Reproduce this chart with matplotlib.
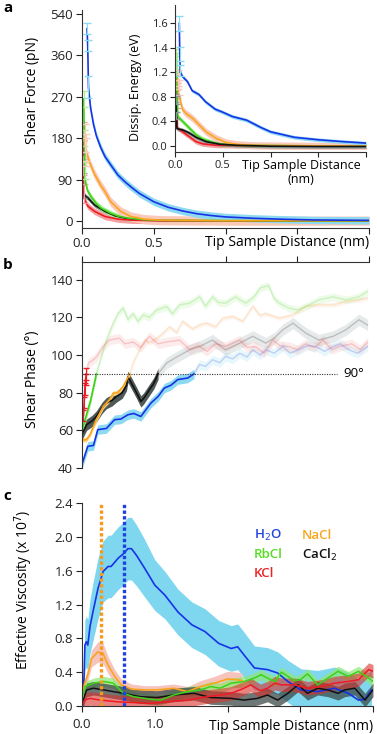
import numpy as np
import matplotlib
matplotlib.use('Agg')
import matplotlib.pyplot as plt

plt.rcParams['font.family'] = ['Open Sans', 'DejaVu Sans']
plt.rcParams['font.size'] = 9.5
plt.rcParams['axes.linewidth'] = 0.8

### colours
BLUE, BLUE_BAND = '#1733e6', '#8cd9f2'
GREEN, GREEN_BAND = '#3dd11a', '#a9ee90'
ORANGE, ORANGE_BAND = '#f8a51c', '#fbc9b9'
RED, RED_BAND = '#ee1b24', '#f5a0a0'
BLACK, BLACK_BAND = '#111111', '#8a9896'

### panel a: shear force (pN)
a_blue_x = [0.035, 0.04, 0.045, 0.06, 0.08, 0.1, 0.13, 0.16, 0.2, 0.25, 0.3, 0.35, 0.4, 0.5, 0.6, 0.7, 0.8, 0.9, 1.0, 1.2, 1.4, 1.6, 1.8, 2.0]
a_blue_y = [475, 400, 290, 245, 210, 185, 160, 140, 122, 100, 85, 72, 60, 42, 30, 22, 16, 12, 9, 6, 4, 2.5, 2, 1.5]
a_green_x = [0.012, 0.016, 0.02, 0.025, 0.04, 0.065, 0.1, 0.134, 0.17, 0.2, 0.25, 0.32, 0.43, 0.6, 1.0, 1.5, 2.0]
a_green_y = [265, 180, 110, 83, 65, 52, 38, 28, 22, 17, 11, 6.5, 3, 1.5, 1, 0.5, 0.5]
a_orange_x = [0.02, 0.025, 0.03, 0.05, 0.065, 0.09, 0.11, 0.13, 0.16, 0.2, 0.24, 0.27, 0.34, 0.43, 0.55, 0.7, 1.0, 1.5, 2.0]
a_orange_y = [180, 160, 150, 130, 118, 100, 89, 78, 64, 42, 30, 21, 10, 4.3, 2, 1.5, 1, 1, 1]
a_red_x = [0.005, 0.008, 0.012, 0.02, 0.042, 0.088, 0.16, 0.25, 0.34, 0.5, 1.0, 2.0]
a_red_y = [195, 120, 60, 45, 32, 21, 10, 4.3, 2, 1, 0.5, 0.5]
a_black_x = [0.004, 0.007, 0.01, 0.02, 0.042, 0.088, 0.16, 0.23, 0.32, 0.43, 0.6, 1.0, 2.0]
a_black_y = [160, 120, 65, 55, 50, 35, 21, 11.5, 5, 2, 1, 0.5, 0.5]
a_err = {'blue': 8, 'green': 6, 'orange': 10, 'red': 7, 'black': 5}

### inset: dissipated energy (eV)
i_blue_x = [0.045, 0.05, 0.055, 0.08, 0.13, 0.18, 0.25, 0.32, 0.42, 0.5, 0.6, 0.75, 0.9, 1.0, 1.25, 1.5, 1.75, 2.0]
i_blue_y = [1.6, 1.35, 1.2, 1.13, 1.05, 0.9, 0.84, 0.72, 0.6, 0.55, 0.48, 0.42, 0.3, 0.23, 0.14, 0.1, 0.07, 0.045]
i_green_x = [0.0, 0.01, 0.018, 0.024, 0.028, 0.08, 0.15, 0.22, 0.29, 0.4, 0.5, 0.64, 0.8, 1.0, 1.5, 2.0]
i_green_y = [1.25, 1.31, 1.28, 0.9, 0.48, 0.4, 0.29, 0.18, 0.11, 0.054, 0.027, 0.01, 0.005, 0.005, 0, 0]
i_orange_x = [0.03, 0.035, 0.04, 0.045, 0.08, 0.115, 0.185, 0.255, 0.325, 0.43, 0.535, 0.64, 0.8, 1.0, 1.5, 2.0]
i_orange_y = [1.05, 1.1, 0.95, 0.8, 0.59, 0.53, 0.45, 0.34, 0.23, 0.125, 0.054, 0.027, 0.01, 0.005, 0, 0]
i_red_x = [0.01, 0.017, 0.022, 0.025, 0.08, 0.15, 0.22, 0.29, 0.43, 0.6, 1.0, 2.0]
i_red_y = [1.0, 1.1, 0.7, 0.29, 0.23, 0.15, 0.07, 0.033, 0.01, 0.005, 0, 0]
i_black_x = [0.0, 0.01, 0.015, 0.02, 0.08, 0.15, 0.22, 0.325, 0.465, 0.64, 1.0, 1.5, 2.0]
i_black_y = [0.78, 0.75, 0.5, 0.28, 0.26, 0.21, 0.14, 0.07, 0.027, 0.01, -0.005, -0.01, -0.01]
i_err = {'blue': 0.03, 'green': 0.04, 'orange': 0.06, 'red': 0.04, 'black': 0.03}

### panel b: shear phase (deg)
b_blue_x = [0.0, 0.04, 0.08, 0.11, 0.17, 0.227, 0.27, 0.32, 0.36, 0.41, 0.48, 0.53, 0.574, 0.62, 0.667, 0.736, 0.78, 0.82, 0.86, 0.91, 0.96, 1.0, 1.05, 1.1, 1.15, 1.19, 1.24, 1.28, 1.34, 1.4, 1.45, 1.51, 1.57, 1.63, 1.69, 1.75, 1.8, 1.86, 1.92, 1.99]
b_blue_y = [42, 51.5, 52, 60.4, 61, 65.7, 66, 68.3, 69, 67.4, 74.5, 78, 82.5, 84, 87, 87.8, 90, 95, 94, 97.5, 96, 99.3, 98, 101, 99, 102.8, 100, 102.8, 101, 104.6, 101, 102.8, 105, 104.6, 102, 104.6, 106, 102.8, 101, 104.6]
b_green_x = [0.0, 0.03, 0.06, 0.1, 0.148, 0.18, 0.218, 0.25, 0.287, 0.32, 0.356, 0.39, 0.426, 0.47, 0.52, 0.59, 0.63, 0.68, 0.75, 0.82, 0.86, 0.91, 0.95, 1.0, 1.07, 1.14, 1.2, 1.24, 1.3, 1.34, 1.375, 1.44, 1.5, 1.56, 1.65, 1.75, 1.84, 1.93, 1.99]
b_green_y = [60, 68, 76, 90, 102.8, 110, 117, 122, 125, 119, 122, 118, 121.4, 120, 124, 125.8, 122, 126.7, 127.6, 131, 126, 131, 128, 127.6, 131, 127.6, 131, 135.6, 137, 130, 127.6, 125, 124, 125.8, 129.4, 131, 129.4, 131, 133.8]
b_red_x = [0.01, 0.015, 0.02, 0.025, 0.03, 0.044, 0.07, 0.1, 0.148, 0.19, 0.26, 0.3, 0.356, 0.41, 0.47, 0.53, 0.59, 0.68, 0.75, 0.81, 0.87, 0.93, 1.0, 1.1, 1.15, 1.21, 1.27, 1.33, 1.38, 1.44, 1.5, 1.56, 1.62, 1.68, 1.74, 1.79, 1.88, 1.94, 1.99]
b_red_y = [68, 75, 82, 87, 90, 95.8, 97, 99, 104.6, 108, 109, 106, 107, 104, 110, 106, 107, 108, 103, 105, 102, 106, 104.6, 108, 104, 104.6, 101, 108, 105, 104.6, 103, 106, 104, 108, 103, 104.6, 106, 103, 107]
b_orange_x = [0.0, 0.03, 0.056, 0.1, 0.148, 0.19, 0.218, 0.25, 0.287, 0.333, 0.356, 0.4, 0.44, 0.47, 0.54, 0.61, 0.66, 0.7, 0.77, 0.82, 0.866, 0.93, 0.98, 1.05, 1.12, 1.19, 1.24, 1.28, 1.375, 1.47, 1.56, 1.65, 1.75, 1.84, 1.93, 1.99]
b_orange_y = [55, 55, 57.7, 65.7, 72.7, 76, 79.8, 80, 83.4, 90, 95.8, 102.8, 108, 106.4, 110, 115, 112, 118, 114, 116, 117, 115, 119.6, 120.5, 118, 126, 121, 122, 119.6, 121.4, 126, 126.7, 126.7, 128.5, 129.4, 130.3]
b_black_x = [0.0, 0.032, 0.07, 0.1, 0.14, 0.17, 0.21, 0.24, 0.28, 0.31, 0.32, 0.345, 0.38, 0.41, 0.43, 0.47, 0.5, 0.53, 0.59, 0.66, 0.75, 0.82, 0.91, 1.0, 1.1, 1.19, 1.28, 1.34, 1.4, 1.47, 1.56, 1.65, 1.75, 1.84, 1.93, 1.99]
b_black_y = [58, 63, 65, 67.4, 72, 74.5, 76, 78, 80, 84, 88.5, 85, 80, 75.4, 77, 81.6, 85, 90, 95.8, 99, 102.8, 104.6, 108, 102.8, 106.4, 110, 106.4, 109, 113.5, 117, 111.7, 108, 110, 113.5, 118.8, 116]
b_err = {'blue': 2.5, 'green': 2.0, 'orange': 1.2, 'red': 2.5, 'black': 3.0}

### panel c: effective viscosity (x 1e7)
c_blue_x = [0.0, 0.01, 0.028, 0.04, 0.06, 0.08, 0.11, 0.15, 0.22, 0.29, 0.36, 0.4, 0.5, 0.57, 0.63, 0.68, 0.75, 0.86, 1.0, 1.14, 1.32, 1.51, 1.69, 1.88, 2.05, 2.14, 2.23, 2.37, 2.55, 2.69, 2.83, 3.01, 3.24, 3.47, 3.66, 3.8, 3.89, 3.98]
c_blue_y = [0.0, 0.03, 0.35, 0.72, 0.76, 0.72, 0.94, 1.11, 1.39, 1.59, 1.65, 1.65, 1.75, 1.8, 1.86, 1.86, 1.78, 1.63, 1.43, 1.31, 1.11, 0.96, 0.88, 0.74, 0.68, 0.7, 0.6, 0.45, 0.43, 0.39, 0.29, 0.19, 0.17, 0.21, 0.15, 0.07, 0.08, 0.19]
c_blue_err = [0.05, 0.1, 0.2, 0.3, 0.3, 0.3, 0.32, 0.34, 0.36, 0.36, 0.37, 0.37, 0.37, 0.37, 0.37, 0.37, 0.36, 0.34, 0.3, 0.28, 0.27, 0.27, 0.27, 0.27, 0.27, 0.27, 0.27, 0.26, 0.26, 0.25, 0.25, 0.25, 0.25, 0.25, 0.25, 0.25, 0.25, 0.25]
c_orange_x = [0.0, 0.03, 0.08, 0.13, 0.22, 0.29, 0.36, 0.45, 0.54, 0.68, 0.86, 1.03, 1.26, 1.45, 1.63, 1.82, 2.0, 2.14, 2.2]
c_orange_y = [0.03, 0.25, 0.37, 0.56, 0.64, 0.62, 0.48, 0.35, 0.25, 0.2, 0.19, 0.19, 0.21, 0.17, 0.23, 0.27, 0.32, 0.31, 0.3]
c_orange_err = [0.02, 0.06, 0.08, 0.1, 0.12, 0.12, 0.1, 0.08, 0.07, 0.06, 0.05, 0.05, 0.05, 0.06, 0.07, 0.08, 0.09, 0.09, 0.09]
c_green_x = [0.0, 0.04, 0.16, 0.3, 0.43, 0.57, 0.71, 0.94, 1.08, 1.26, 1.45, 1.63, 1.77, 1.9, 2.05, 2.23, 2.37, 2.46, 2.55, 2.65, 2.74, 2.83, 2.92, 3.0, 3.1, 3.24, 3.38, 3.52, 3.66, 3.8, 3.94, 4.0]
c_green_y = [0.07, 0.23, 0.27, 0.29, 0.27, 0.15, 0.11, 0.08, 0.07, 0.13, 0.17, 0.19, 0.23, 0.21, 0.27, 0.29, 0.33, 0.37, 0.33, 0.29, 0.4, 0.35, 0.3, 0.31, 0.38, 0.25, 0.33, 0.41, 0.35, 0.41, 0.33, 0.29]
c_red_x = [0.0, 0.04, 0.11, 0.25, 0.48, 0.71, 0.94, 1.17, 1.45, 1.72, 1.9, 2.05, 2.2, 2.32, 2.45, 2.55, 2.65, 2.74, 2.92, 3.1, 3.29, 3.47, 3.66, 3.8, 3.94, 4.0]
c_red_y = [0.01, 0.07, 0.09, 0.07, 0.05, 0.04, 0.03, 0.05, 0.07, 0.11, 0.13, 0.15, 0.2, 0.25, 0.18, 0.21, 0.27, 0.25, 0.25, 0.21, 0.23, 0.27, 0.29, 0.31, 0.43, 0.41]
c_black_x = [0.0, 0.065, 0.157, 0.3, 0.43, 0.57, 0.8, 1.03, 1.26, 1.54, 1.77, 2.05, 2.23, 2.41, 2.55, 2.69, 2.83, 2.97, 3.1, 3.24, 3.38, 3.52, 3.61, 3.75, 3.89, 4.0]
c_black_y = [0.03, 0.19, 0.21, 0.19, 0.17, 0.15, 0.11, 0.1, 0.13, 0.15, 0.1, 0.09, 0.07, 0.09, 0.13, 0.07, 0.15, 0.25, 0.15, 0.21, 0.19, 0.15, 0.19, 0.21, 0.07, 0.19]
c_peak_orange = 0.263
c_peak_blue = 0.58

legend_names = ['H$_2$O', 'NaCl', 'RbCl', 'CaCl$_2$', 'KCl']


def band_line(ax, x, y, err, color, band, lw=1.2, alpha=1.0):
    x = np.asarray(x, float)
    y = np.asarray(y, float)
    ax.fill_between(x, y - err, y + err, color=band, lw=0, alpha=alpha)
    ax.plot(x, y, color=color, lw=lw, alpha=alpha)


def style(ax):
    ax.tick_params(direction='out', length=4.5, width=0.8, pad=2, colors='#222222')
    for s in ax.spines.values():
        s.set_color('#333333')


fig = plt.figure(figsize=(3.77, 7.34), dpi=100)
W, H = 377, 734


def box(l, t, r, b):
    return [l / W, 1 - b / H, (r - l) / W, (b - t) / H]


# ---- panel a
ax_a = fig.add_axes(box(82, 10, 369, 228))
f_fwd = lambda v: np.where(np.asarray(v) <= 360, v, 360 + (np.asarray(v) - 360) / 2)
f_inv = lambda v: np.where(np.asarray(v) <= 360, v, 360 + (np.asarray(v) - 360) * 2)
ax_a.set_yscale('function', functions=(f_fwd, f_inv))
for x, y, key, c, bd in [(a_black_x, a_black_y, 'black', BLACK, BLACK_BAND),
                         (a_red_x, a_red_y, 'red', RED, RED_BAND),
                         (a_green_x, a_green_y, 'green', GREEN, GREEN_BAND),
                         (a_orange_x, a_orange_y, 'orange', ORANGE, ORANGE_BAND),
                         (a_blue_x, a_blue_y, 'blue', BLUE, BLUE_BAND)]:
    band_line(ax_a, x, y, a_err[key], c, bd)
    ax_a.errorbar(x[:3], y[:3], yerr=a_err[key] * 3, fmt='none', ecolor=bd, capsize=3, lw=0.8)
ax_a.set_xlim(0, 2.0)
ax_a.set_ylim(-15, 556)
ax_a.set_yticks([0, 90, 180, 270, 360, 540])
ax_a.set_xticks([0, 0.5, 1.0, 1.5, 2.0], ['0.0', '0.5', '', '', ''])
ax_a.spines[['top', 'right']].set_visible(False)
style(ax_a)
ax_a.set_ylabel('Shear Force (pN)', fontsize=10)
ax_a.yaxis.set_label_coords(-0.146, 0.63)
ax_a.text(1.0, -0.03, 'Tip Sample Distance (nm)', transform=ax_a.transAxes, ha='right', va='top',
          fontsize=10)

# ---- inset
ax_in = fig.add_axes(box(175, 5, 366, 152))
ax_in.patch.set_alpha(0)
e_fwd = lambda v: np.where(np.asarray(v) <= 1.2, v, 1.2 + (np.asarray(v) - 1.2) * 2)
e_inv = lambda v: np.where(np.asarray(v) <= 1.2, v, 1.2 + (np.asarray(v) - 1.2) / 2)
ax_in.set_yscale('function', functions=(e_fwd, e_inv))
for x, y, key, c, bd in [(i_red_x, i_red_y, 'red', RED, RED_BAND),
                         (i_green_x, i_green_y, 'green', GREEN, GREEN_BAND),
                         (i_orange_x, i_orange_y, 'orange', ORANGE, ORANGE_BAND),
                         (i_black_x, i_black_y, 'black', BLACK, BLACK_BAND),
                         (i_blue_x, i_blue_y, 'blue', BLUE, BLUE_BAND)]:
    band_line(ax_in, x, y, i_err[key], c, bd)
    ax_in.errorbar(x[:3], y[:3], yerr=i_err[key] * 2, fmt='none', ecolor=bd, capsize=3, lw=0.8)
ax_in.set_xlim(0, 2.0)
ax_in.set_ylim(-0.1, 1.75)
ax_in.set_yticks([0, 0.4, 0.8, 1.2, 1.4, 1.6], ['0.0', '0.4', '0.8', '1.2', '1.4', '1.6'])
ax_in.set_xticks([0, 0.5, 1.0, 1.5, 2.0], ['0.0', '0.5', '', '', ''])
ax_in.spines[['top', 'right']].set_visible(False)
style(ax_in)
ax_in.tick_params(labelsize=8, length=3.5)
ax_in.set_ylabel('Dissip. Energy (eV)', fontsize=9)
ax_in.yaxis.set_label_coords(-0.175, 0.44)
ax_in.text(0.66, -0.05, 'Tip Sample Distance\n(nm)', transform=ax_in.transAxes,
           ha='center', va='top', linespacing=1.05, fontsize=9)

# ---- panel b
ax_b = fig.add_axes(box(82, 262, 369, 468))
for x, y, key, c, bd in [(b_blue_x, b_blue_y, 'blue', BLUE, BLUE_BAND),
                         (b_black_x, b_black_y, 'black', BLACK, BLACK_BAND),
                         (b_orange_x, b_orange_y, 'orange', ORANGE, ORANGE_BAND),
                         (b_red_x, b_red_y, 'red', RED, RED_BAND),
                         (b_green_x, b_green_y, 'green', GREEN, GREEN_BAND)]:
    x = np.asarray(x)
    y = np.asarray(y)
    k = int(np.argmax(y >= 90))
    band_line(ax_b, x[k:], y[k:], b_err[key], c, bd, lw=1.0, alpha=0.2)
for x, y, key, c, bd in [(b_blue_x, b_blue_y, 'blue', BLUE, BLUE_BAND),
                         (b_black_x, b_black_y, 'black', BLACK, '#4f5a58'),
                         (b_orange_x, b_orange_y, 'orange', ORANGE, '#fcd58a'),
                         (b_red_x, b_red_y, 'red', RED, RED_BAND),
                         (b_green_x, b_green_y, 'green', GREEN, GREEN_BAND)]:
    x = np.asarray(x)
    y = np.asarray(y)
    k = int(np.argmax(y >= 90))
    band_line(ax_b, x[:k + 1], y[:k + 1], b_err[key], c, bd, lw=1.2)
ax_b.errorbar(b_red_x[:5], b_red_y[:5], yerr=3, fmt='none', ecolor=RED, capsize=2.5, lw=0.8)
ax_b.plot([0, 1.78], [90, 90], ls=(0, (1, 1.2)), color='#333333', lw=0.8)
ax_b.text(1.82, 90, '90°', va='center', ha='left')
ax_b.set_xlim(0, 2.0)
ax_b.set_ylim(40, 149.5)
ax_b.set_yticks([40, 60, 80, 100, 120, 140])
ax_b.xaxis.tick_top()
ax_b.set_xticks([0, 0.5, 1.0, 1.5, 2.0])
ax_b.tick_params(axis='x', labeltop=False)
ax_b.spines[['bottom', 'right']].set_visible(False)
style(ax_b)
ax_b.set_ylabel('Shear Phase (°)', fontsize=10)
ax_b.yaxis.set_label_coords(-0.146, 0.43)

# ---- panel c
ax_c = fig.add_axes(box(82, 503, 373, 706))
band_line(ax_c, c_blue_x, c_blue_y, np.asarray(c_blue_err), BLUE, '#7fd6ef')
band_line(ax_c, c_orange_x, c_orange_y, np.asarray(c_orange_err), ORANGE, '#f7c3bd')
ax_c.fill_between(c_green_x, np.asarray(c_green_y) - 0.06, np.asarray(c_green_y) + 0.06,
                  color='#8ee872', lw=0, alpha=0.7)
ax_c.fill_between(c_black_x, np.asarray(c_black_y) - 0.08, np.asarray(c_black_y) + 0.08,
                  color='#3c4a48', lw=0, alpha=0.75)
ax_c.fill_between(c_red_x, np.asarray(c_red_y) - 0.08, np.asarray(c_red_y) + 0.08,
                  color='#d9302a', lw=0, alpha=0.6)
ax_c.plot(c_black_x, c_black_y, color=BLACK, lw=1.1)
ax_c.plot(c_red_x, c_red_y, color=RED, lw=1.1)
ax_c.plot(c_green_x, c_green_y, color=GREEN, lw=1.1)
ax_c.axvline(c_peak_orange, color='#f59a1b', lw=2.4, ls=(0, (1.0, 0.7)))
ax_c.axvline(c_peak_blue, color='#2040e0', lw=2.4, ls=(0, (1.0, 0.7)))
ax_c.set_xlim(0, 4.0)
ax_c.set_ylim(0, 2.4)
ax_c.set_yticks([0, 0.4, 0.8, 1.2, 1.6, 2.0, 2.4])
ax_c.set_xticks([0, 1, 2, 3, 4], ['0.0', '1.0', '', '', ''])
ax_c.spines[['top', 'right']].set_visible(False)
style(ax_c)
ax_c.tick_params(axis='x', pad=4)
ax_c.set_ylabel('Effective Viscosity (x 10$^7$)', fontsize=10)
ax_c.yaxis.set_label_coords(-0.16, 0.57)
ax_c.text(1.0, -0.117, 'Tip Sample Distance (nm)', transform=ax_c.transAxes, ha='right',
          va='baseline', fontsize=10)

legend_pos = [(0.591, 0.842), (0.756, 0.842), (0.591, 0.744), (0.756, 0.744), (0.591, 0.655)]
legend_cols = ['#2244dd', '#f9a51b', '#55dd22', '#111111', '#ee2222']
for name, (px, py), col in zip(legend_names, legend_pos, legend_cols):
    ax_c.text(px, py, name, color=col, transform=ax_c.transAxes, fontsize=9.5,
              fontweight='semibold', va='center', ha='left')

for letter, (lx, ly) in zip('abc', [(3, 8), (3, 265), (3, 496)]):
    fig.text(lx / W, 1 - ly / H, letter, fontweight='bold', fontsize=11, va='center', ha='left')

fig.savefig('out.png', dpi=100)
